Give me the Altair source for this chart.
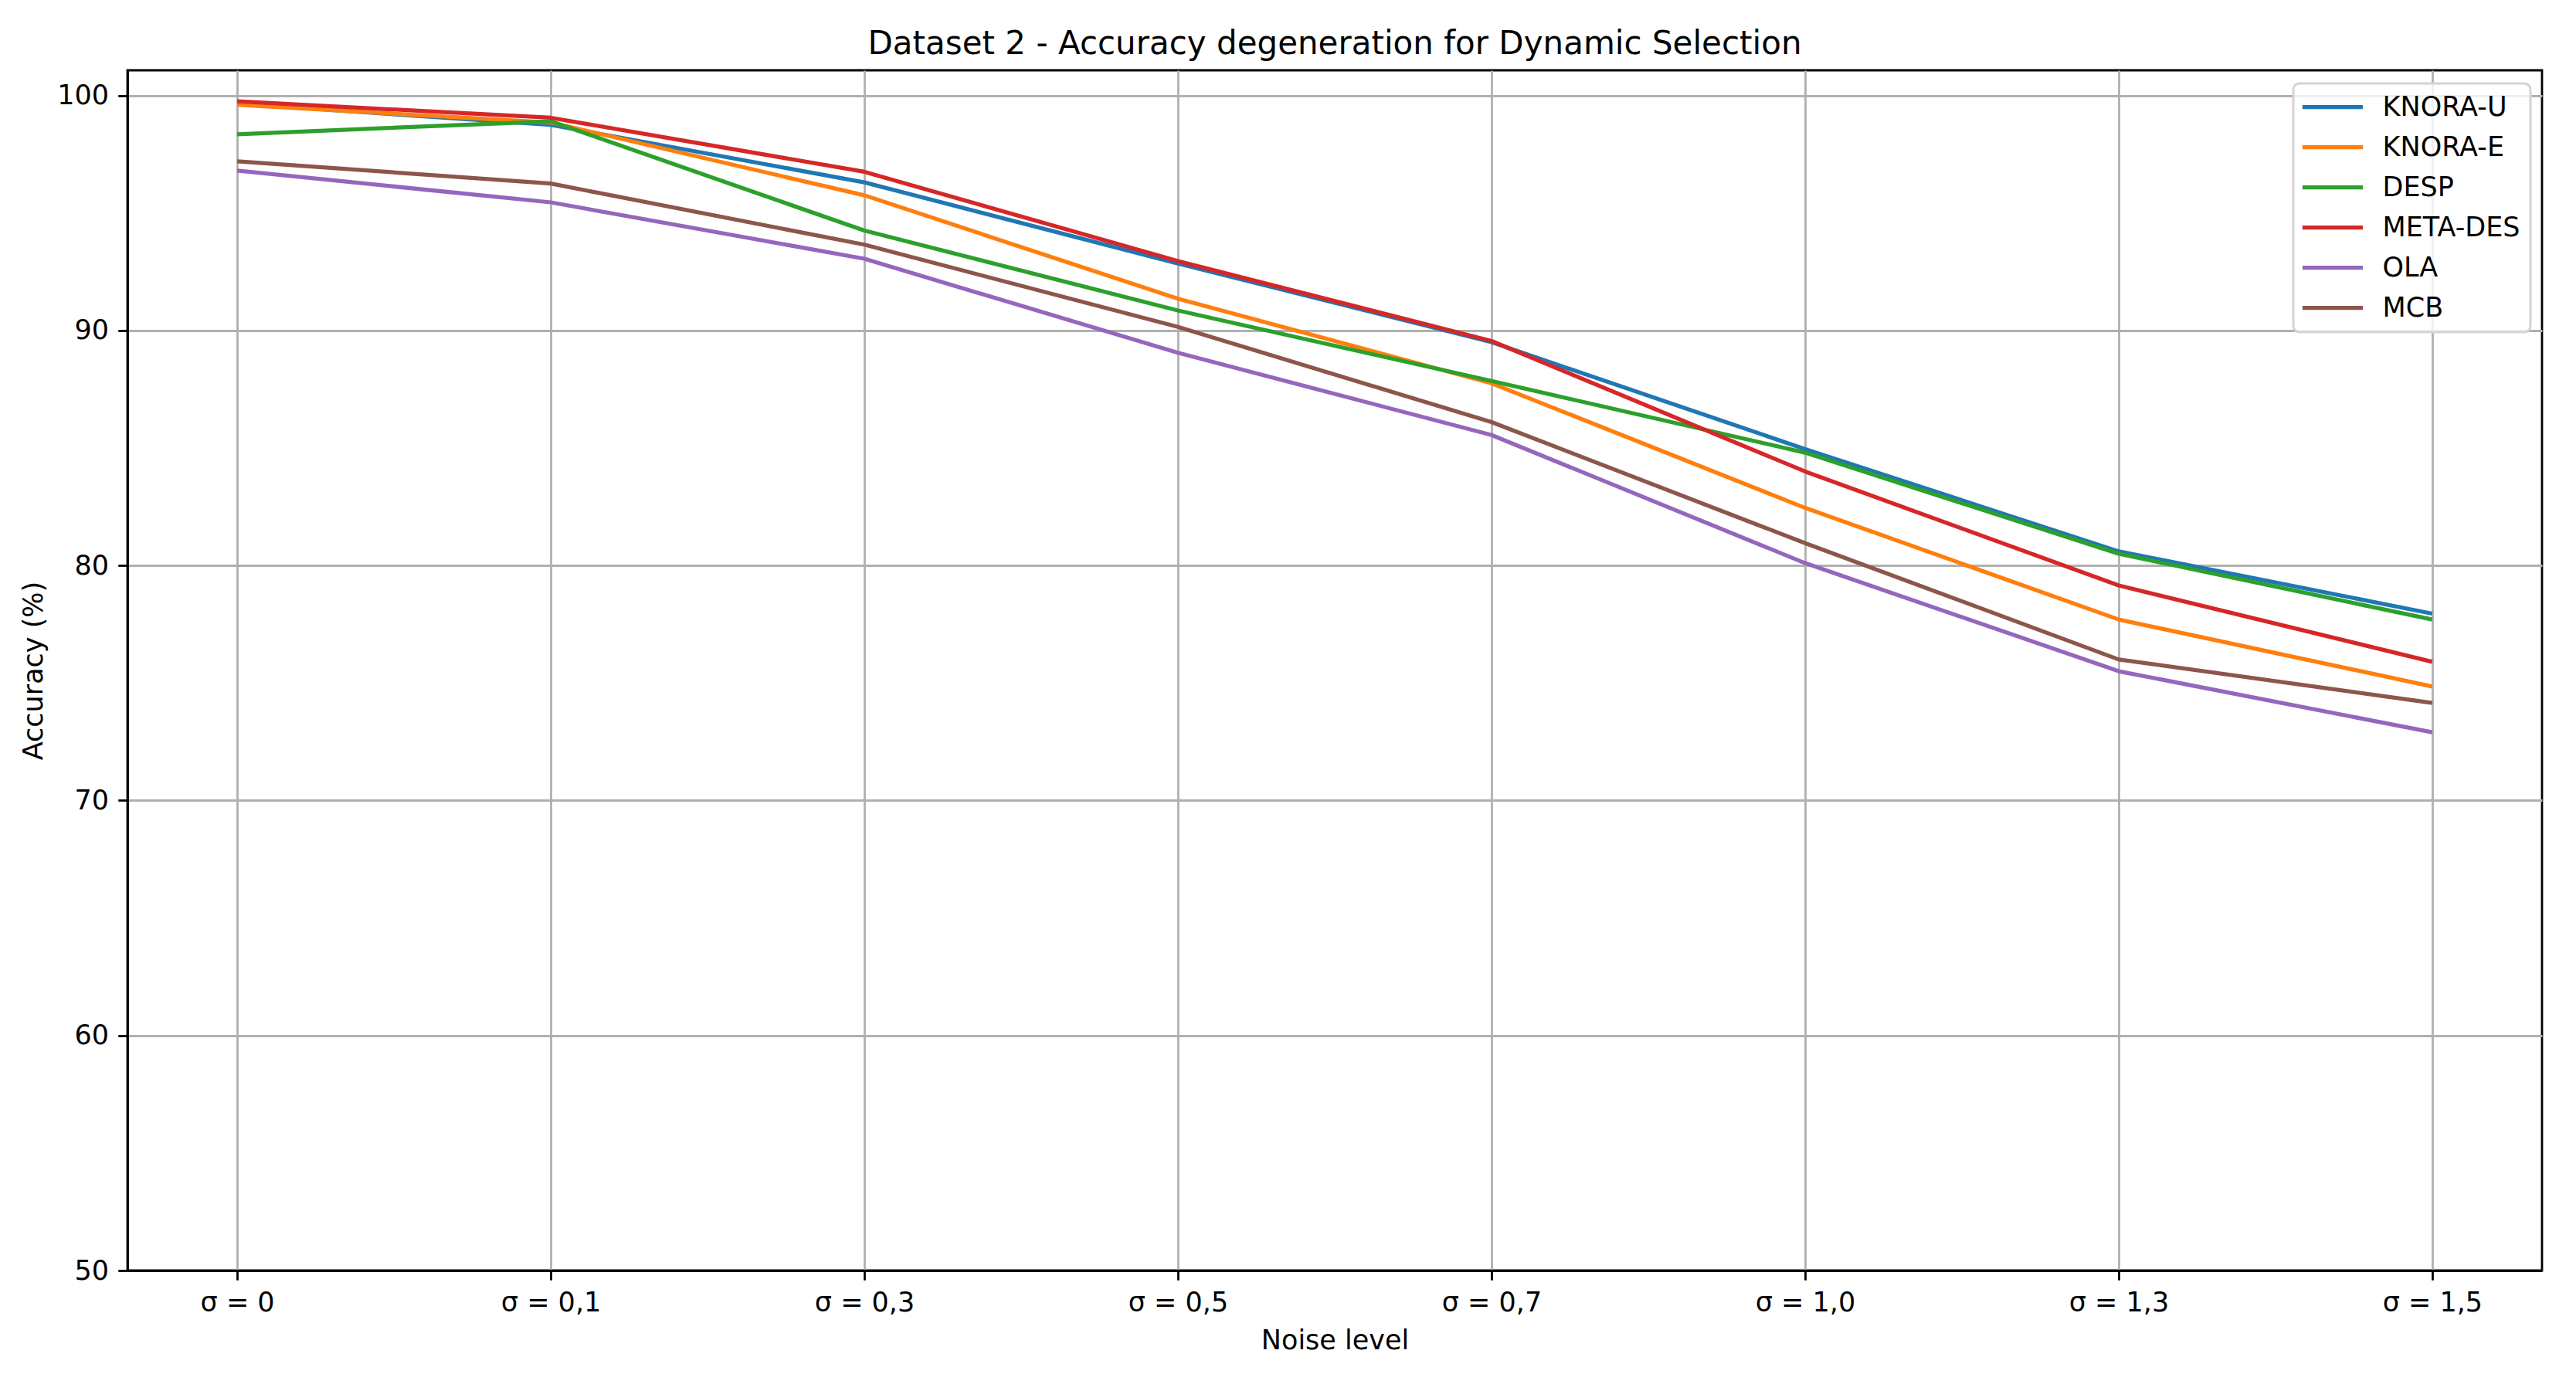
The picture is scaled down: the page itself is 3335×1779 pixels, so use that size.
import altair as alt
import pandas as pd

noise_levels = ["σ = 0", "σ = 0,1", "σ = 0,3", "σ = 0,5", "σ = 0,7", "σ = 1,0", "σ = 1,3", "σ = 1,5"]
methods = ["KNORA-U", "KNORA-E", "DESP", "META-DES", "OLA", "MCB"]
colors = ["#1f77b4", "#ff7f0e", "#2ca02c", "#d62728", "#9467bd", "#8c564b"]

knora_u = [99.65, 98.75, 96.30, 92.85, 89.50, 84.95, 80.60, 77.95]
knora_e = [99.60, 98.85, 95.75, 91.35, 87.75, 82.45, 77.70, 74.85]
desp = [98.35, 98.90, 94.25, 90.85, 87.85, 84.80, 80.50, 77.70]
meta_des = [99.75, 99.05, 96.75, 92.95, 89.55, 84.00, 79.15, 75.90]
ola = [96.80, 95.45, 93.05, 89.05, 85.55, 80.10, 75.50, 72.90]
mcb = [97.20, 96.25, 93.65, 90.15, 86.10, 80.95, 76.00, 74.15]

y_ticks = [50, 60, 70, 80, 90, 100]

series = [knora_u, knora_e, desp, meta_des, ola, mcb]
rows = []
for m, vals in zip(methods, series):
    for lvl, v in zip(noise_levels, vals):
        rows.append({"method": m, "noise": lvl, "acc": v})
df = pd.DataFrame(rows)

FONT = "DejaVu Sans"

chart = alt.Chart(df).mark_line(strokeWidth=5.25, strokeJoin="round").encode(
    x=alt.X(
        "noise:N",
        sort=noise_levels,
        scale=alt.Scale(type="point", padding=0.35),
        axis=alt.Axis(title="Noise level", labelAngle=0, titlePadding=14),
    ),
    y=alt.Y(
        "acc:Q",
        scale=alt.Scale(domain=[50, 101.07], nice=False, zero=False),
        axis=alt.Axis(values=y_ticks, title="Accuracy (%)", titlePadding=12),
    ),
    color=alt.Color(
        "method:N",
        sort=methods,
        scale=alt.Scale(domain=methods, range=colors),
        legend=alt.Legend(
            title=None,
            orient="none",
            legendX=2804,
            legendY=17,
            symbolType="M-2.7,0H2.7",
            symbolSize=841,
            symbolStrokeWidth=5.25,
            symbolOffset=20.5,
            labelOffset=47,
            rowPadding=16,
            padding=13,
            labelLimit=0,
        ),
    ),
).properties(
    width=3126,
    height=1554,
    title=alt.TitleParams(
        text="Dataset 2 - Accuracy degeneration for Dynamic Selection",
        fontSize=42,
        fontWeight="normal",
        font=FONT,
        color="black",
        anchor="middle",
        offset=21,
        dy=42,
        baseline="alphabetic",
        frame="group",
    ),
    autosize=alt.AutoSizeParams(type="none"),
    padding={"left": 157, "top": 83, "right": 30, "bottom": 120},
).configure(
    font=FONT,
    background="white",
).configure_view(
    stroke="black",
    strokeWidth=2.8,
).configure_axis(
    labelFont=FONT,
    titleFont=FONT,
    labelFontSize=35,
    titleFontSize=35,
    labelColor="black",
    titleColor="black",
    titleFontWeight="normal",
    tickColor="black",
    tickWidth=2.8,
    tickSize=12.25,
    labelPadding=12.25,
    domainColor="black",
    domainWidth=2.8,
    gridColor="#b0b0b0",
    gridWidth=2.8,
    grid=True,
).configure_legend(
    labelFont=FONT,
    labelFontSize=35,
    labelColor="black",
    fillColor="rgba(255,255,255,0.8)",
    strokeColor="#d4d4d4",
    strokeWidth=3,
    cornerRadius=8,
)

chart.save("out.html", embed_options={"renderer": "svg", "actions": False})
